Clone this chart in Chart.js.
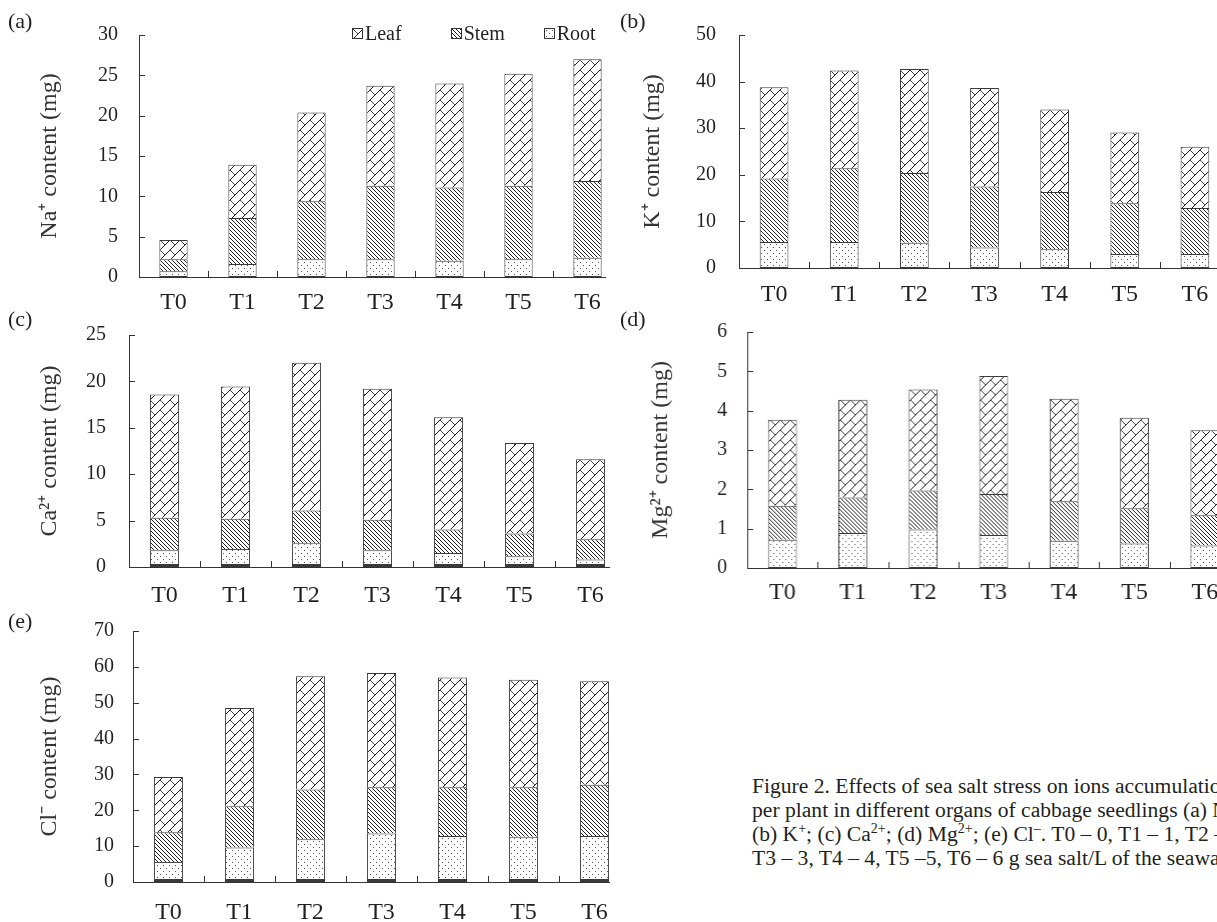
<!DOCTYPE html>
<html>
<head>
<meta charset="utf-8">
<script src="https://cdn.jsdelivr.net/npm/chart.js@4.4.1/dist/chart.umd.min.js"></script>
<style>
  html, body { margin: 0; padding: 0; background: #fff; }
  body { width: 1217px; height: 922px; overflow: hidden; position: relative; font-family: 'Liberation Serif', serif; color: #231f20; }
  .panel { position: absolute; overflow: hidden; }
  .panel canvas { position: absolute; left: 0; top: 0; }
  .tag { position: absolute; font-size: 22px; line-height: 22px; }
  .legend { position: absolute; left: 352px; top: 21px; font-size: 20px; line-height: 24px; white-space: nowrap; }
  .legend span.item { display: inline-block; }
  .legend span.box { display: inline-block; width: 9px; height: 9px; border: 1px solid #333; vertical-align: 1px; margin-right: 2px; }
  .caption { position: absolute; left: 752px; top: 774px; font-size: 21.6px; line-height: 24px; white-space: nowrap; }
  .caption sup { font-size: 14px; line-height: 0; }
</style>
</head>
<body>
<div class="panel" id="pa" style="left:0;top:0;width:606px;height:320px"><canvas id="chartA"></canvas></div>
<div class="panel" id="pb" style="left:610px;top:0;width:607px;height:310px"><canvas id="chartB"></canvas></div>
<div class="panel" id="pc" style="left:0;top:300px;width:610px;height:310px"><canvas id="chartC"></canvas></div>
<div class="panel" id="pd" style="left:610px;top:300px;width:607px;height:310px"><canvas id="chartD"></canvas></div>
<div class="panel" id="pe" style="left:0;top:600px;width:610px;height:322px"><canvas id="chartE"></canvas></div>

<div class="tag" style="left:8px;top:10px">(a)</div>
<div class="tag" style="left:620px;top:10px">(b)</div>
<div class="tag" style="left:8px;top:308px">(c)</div>
<div class="tag" style="left:620px;top:308px">(d)</div>
<div class="tag" style="left:8px;top:610px">(e)</div>

<div class="legend">
  <span class="item"><span class="box" id="boxLeaf"></span>Leaf</span>
  <span class="item" style="margin-left:44px"><span class="box" id="boxStem"></span>Stem</span>
  <span class="item" style="margin-left:34px"><span class="box" id="boxRoot"></span>Root</span>
</div>

<div class="caption">
  <div>Figure 2. Effects of sea salt stress on ions accumulation</div>
  <div>per plant in different organs of cabbage seedlings (a) Na<sup>+</sup>;</div>
  <div>(b) K<sup>+</sup>; (c) Ca<sup>2+</sup>; (d) Mg<sup>2+</sup>; (e) Cl<sup>–</sup>. T0 – 0, T1 – 1, T2 – 2,</div>
  <div>T3 – 3, T4 – 4, T5 –5, T6 – 6 g sea salt/L of the seawater</div>
</div>

<script>
const treatments = ['T0', 'T1', 'T2', 'T3', 'T4', 'T5', 'T6'];

// Na+ (mg)
const naRoot = [0.7, 1.6, 2.2, 2.2, 2.0, 2.2, 2.4];
const naStem = [1.5, 5.7, 7.2, 9.1, 9.1, 9.1, 9.5];
const naLeaf = [2.4, 6.6, 11.0, 12.4, 12.9, 13.9, 15.1];

// K+ (mg)
const kRoot = [5.6, 5.6, 5.4, 4.4, 4.0, 3.0, 3.0];
const kStem = [13.6, 15.8, 15.0, 13.1, 12.3, 10.9, 9.9];
const kLeaf = [19.6, 21.0, 22.3, 21.1, 17.7, 15.2, 13.1];

// Ca2+ (mg)
const caRoot = [1.8, 1.95, 2.55, 1.8, 1.5, 1.15, 0.8];
const caStem = [3.5, 3.25, 3.55, 3.3, 2.55, 2.45, 2.2];
const caLeaf = [13.3, 14.25, 15.9, 14.1, 12.1, 9.75, 8.6];

// Mg2+ (mg)
const mgRoot = [0.72, 0.89, 0.98, 0.84, 0.69, 0.62, 0.57];
const mgStem = [0.86, 0.9, 0.99, 1.04, 1.01, 0.9, 0.77];
const mgLeaf = [2.19, 2.49, 2.57, 3.0, 2.6, 2.3, 2.16];

// Cl- (mg)
const clRoot = [5.6, 9.6, 11.9, 13.5, 12.8, 12.6, 12.8];
const clStem = [8.3, 11.5, 13.9, 12.9, 13.6, 13.8, 14.3];
const clLeaf = [15.4, 27.4, 31.6, 31.9, 30.6, 30.0, 28.9];

const naAxis = { max: 30, step: 5 };
const kAxis = { max: 50, step: 10 };
const caAxis = { max: 25, step: 5 };
const mgAxis = { max: 6, step: 1 };
const clAxis = { max: 70, step: 10 };

const serif = "'Liberation Serif', 'Times New Roman', serif";

function makeTile(size, draw) {
  const c = document.createElement('canvas');
  c.width = size;
  c.height = size;
  const g = c.getContext('2d');
  g.fillStyle = '#fff';
  g.fillRect(0, 0, size, size);
  draw(g, size);
  return c;
}

// leaf: diagonal brick, stem: dense downward diagonal, root: sparse dots
const leafTile = makeTile(10, (g, s) => {
  g.fillStyle = '#222';
  for (let i = 0; i < s; i++) g.fillRect(i, s - 1 - i, 1, 1);
  g.fillStyle = '#444';
  for (let i = 0; i < 5; i++) g.fillRect(i, i, 1, 1);
});
const stemTile = makeTile(4, (g, s) => {
  g.fillStyle = '#222';
  for (let i = 0; i < s; i++) g.fillRect(i, i, 1, 1);
});
const rootTile = makeTile(6, g => {
  g.fillStyle = '#555';
  g.fillRect(1, 1, 1, 1);
  g.fillRect(4, 4, 1, 1);
});

function pattern(tile) {
  return document.createElement('canvas').getContext('2d').createPattern(tile, 'repeat');
}

document.getElementById('boxLeaf').style.background = `url(${leafTile.toDataURL()})`;
document.getElementById('boxStem').style.background = `url(${stemTile.toDataURL()})`;
document.getElementById('boxRoot').style.background = `url(${rootTile.toDataURL()})`;

const insideTicks = {
  id: 'insideTicks',
  afterDraw(chart) {
    const { ctx, chartArea, scales: { x, y } } = chart;
    ctx.save();
    ctx.strokeStyle = '#333';
    ctx.lineWidth = 1;
    ctx.beginPath();
    y.ticks.forEach(t => {
      const py = Math.round(y.getPixelForValue(t.value)) + 0.5;
      ctx.moveTo(chartArea.left, py);
      ctx.lineTo(chartArea.left + 6, py);
    });
    for (let i = 1; i < x.ticks.length; i++) {
      const px = Math.round((x.getPixelForValue(i - 1) + x.getPixelForValue(i)) / 2) + 0.5;
      ctx.moveTo(px, chartArea.bottom);
      ctx.lineTo(px, chartArea.bottom - 6);
    }
    ctx.stroke();
    ctx.restore();
  },
};

function drawPanel(id, cfg) {
  const canvas = document.getElementById(id);
  const width = cfg.left + 7 * cfg.slot + 2;
  canvas.width = width;
  canvas.height = cfg.height;
  canvas.style.width = width + 'px';
  canvas.style.height = cfg.height + 'px';

  const upper = { top: 1, left: 1, right: 1, bottom: 0 };
  const rootBorder = { top: 1, left: 1, right: 1, bottom: cfg.thickBase ? 3 : 1 };
  const common = {
    borderColor: '#3a3a3a',
    borderSkipped: false,
    barPercentage: 0.41,
    categoryPercentage: 1,
  };

  new Chart(canvas, {
    type: 'bar',
    data: {
      labels: treatments,
      datasets: [
        { label: 'Root', data: cfg.root, backgroundColor: pattern(rootTile), borderWidth: rootBorder, ...common },
        { label: 'Stem', data: cfg.stem, backgroundColor: pattern(stemTile), borderWidth: upper, ...common },
        { label: 'Leaf', data: cfg.leaf, backgroundColor: pattern(leafTile), borderWidth: upper, ...common },
      ],
    },
    options: {
      responsive: false,
      animation: false,
      layout: { padding: { top: cfg.top, left: 0, right: 2, bottom: 0 } },
      plugins: { legend: { display: false }, tooltip: { enabled: false } },
      scales: {
        x: {
          stacked: true,
          grid: { display: false, drawTicks: false },
          border: { display: true, color: '#333', width: 1 },
          ticks: { color: '#231f20', padding: cfg.labelPad, font: { family: serif, size: 24 } },
          afterFit: scale => { scale.height = cfg.height - cfg.bottom; },
        },
        y: {
          stacked: true,
          min: 0,
          max: cfg.axis.max,
          grid: { display: false, drawTicks: false },
          border: { display: true, color: '#333', width: 1 },
          ticks: { stepSize: cfg.axis.step, color: '#231f20', padding: cfg.tickPad, font: { family: serif, size: 20 } },
          title: {
            display: true,
            text: cfg.title,
            color: '#333',
            font: { family: serif, size: 24, lineHeight: 1 },
            padding: { top: cfg.titleX - 12, bottom: 0 },
          },
          afterFit: scale => { scale.width = cfg.left; },
        },
      },
    },
    plugins: [insideTicks],
  });
}

drawPanel('chartA', {
  root: naRoot, stem: naStem, leaf: naLeaf, axis: naAxis, title: 'Na⁺ content (mg)',
  left: 139, slot: 69, top: 35, bottom: 277, height: 320, labelPad: 11, tickPad: 21, titleX: 50,
});
drawPanel('chartB', {
  root: kRoot, stem: kStem, leaf: kLeaf, axis: kAxis, title: 'K⁺ content (mg)',
  left: 129, slot: 70.2, top: 20, bottom: 268, height: 310, labelPad: 12, tickPad: 23, titleX: 43,
});
drawPanel('chartC', {
  root: caRoot, stem: caStem, leaf: caLeaf, axis: caAxis, title: 'Ca²⁺ content (mg)',
  left: 129, slot: 71, top: 32, bottom: 267, height: 310, labelPad: 14, tickPad: 23, titleX: 50, thickBase: true,
});
drawPanel('chartD', {
  root: mgRoot, stem: mgStem, leaf: mgLeaf, axis: mgAxis, title: 'Mg²⁺ content (mg)',
  left: 137, slot: 70.4, top: 28, bottom: 268, height: 310, labelPad: 10, tickPad: 20, titleX: 51,
});
drawPanel('chartE', {
  root: clRoot, stem: clStem, leaf: clLeaf, axis: clAxis, title: 'Cl⁻ content (mg)',
  left: 133, slot: 71, top: 28, bottom: 282, height: 322, labelPad: 16, tickPad: 19, titleX: 50, thickBase: true,
});
</script>
</body>
</html>
